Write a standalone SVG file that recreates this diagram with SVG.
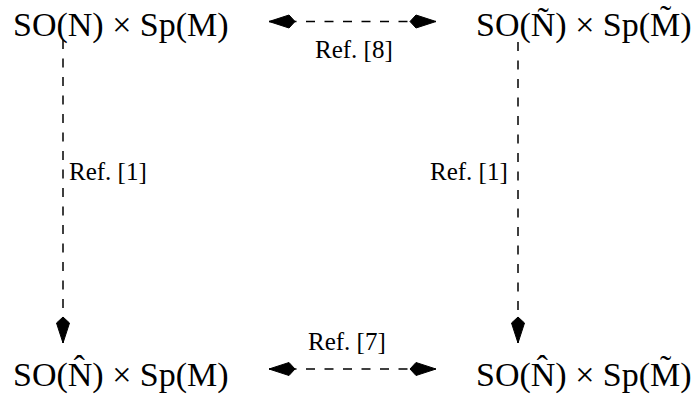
<svg xmlns="http://www.w3.org/2000/svg" width="694" height="394" viewBox="0 0 694 394">
<style>
.math{font-size:34px;fill:#000}
.lbl{font-size:25px;fill:#000}
.conn{stroke:#000;stroke-width:1.5;fill:none;stroke-dasharray:9 9.5}
.head{fill:#000;stroke:#000;stroke-width:1;stroke-linejoin:round}
</style>
<defs>
<marker id="kite" viewBox="-32 -9 34 18" refX="0" refY="0" markerWidth="34" markerHeight="18" markerUnits="userSpaceOnUse" orient="auto-start-reverse" overflow="visible">
<path class="head" d="M0,0 L-20,-6.5 L-26,0 L-20,6.5 Z"/>
</marker>
</defs>
<g id="connectors">
<path class="conn" d="M269,21.5 H436" marker-start="url(#kite)" marker-end="url(#kite)"/>
<path class="conn" d="M269,369 H436" marker-start="url(#kite)" marker-end="url(#kite)"/>
<path class="conn" d="M63,40 V343" marker-end="url(#kite)"/>
<path class="conn" d="M518,42 V343" marker-end="url(#kite)"/>
</g>
<g font-family="Liberation Serif, DejaVu Serif, serif">
<g id="node-tl"><text class="math" x="13" y="36">SO(N) × Sp(M)</text></g>
<g id="node-tr"><text class="math" x="476" y="36">SO(Ñ) × Sp(M̃)</text></g>
<g id="node-bl"><text class="math" x="13" y="386">SO(N̂) × Sp(M)</text></g>
<g id="node-br"><text class="math" x="476" y="386">SO(N̂) × Sp(M̃)</text></g>
<g id="labels">
<text class="lbl" x="315" y="58">Ref. [8]</text>
<text class="lbl" x="308" y="350">Ref. [7]</text>
<text class="lbl" x="69" y="180">Ref. [1]</text>
<text class="lbl" x="430" y="180">Ref. [1]</text>
</g>
</g>
</svg>
